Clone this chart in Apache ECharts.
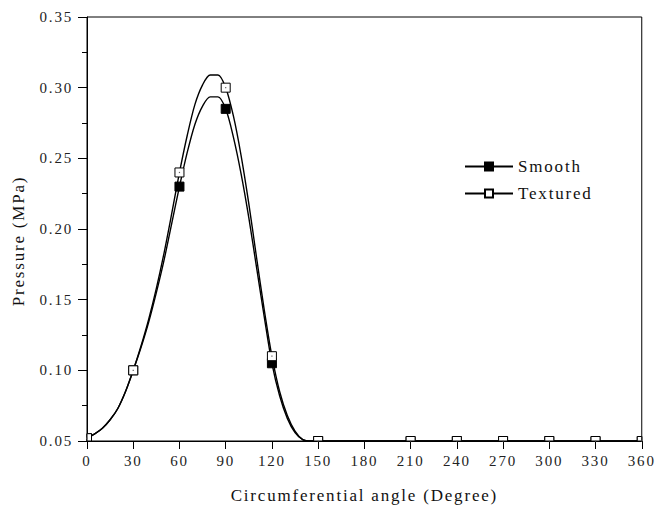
<!DOCTYPE html>
<html>
<head>
<meta charset="utf-8">
<title>Pressure vs circumferential angle</title>
<script src="https://cdn.jsdelivr.net/npm/echarts@6/dist/echarts.min.js"></script>
<style>
  html, body { margin: 0; padding: 0; background: #fff; }
  #chart { width: 656px; height: 511px; }
  #chart svg text { letter-spacing: 1.8px; }
</style>
</head>
<body>
<div id="chart"></div>
<script>
// Curve samples (degrees, MPa) for the two pressure profiles
const curveAngles   = [0, 5, 10, 15, 20, 25, 30, 35, 40, 45, 50, 55, 60, 65, 70, 75, 80, 85, 90,
                       95, 100, 105, 110, 115, 120, 125, 130, 135, 140, 145, 150, 360];
const smoothCurve   = [0.052, 0.055, 0.059, 0.065, 0.073, 0.085, 0.100, 0.116, 0.134, 0.155, 0.178,
                       0.204, 0.230, 0.254, 0.274, 0.287, 0.2935, 0.2935, 0.285, 0.265, 0.239, 0.208,
                       0.173, 0.138, 0.105, 0.082, 0.066, 0.056, 0.051, 0.050, 0.050, 0.050];
const texturedCurve = [0.052, 0.055, 0.059, 0.065, 0.073, 0.085, 0.100, 0.117, 0.136, 0.158, 0.183,
                       0.211, 0.240, 0.266, 0.288, 0.302, 0.309, 0.309, 0.300, 0.280, 0.252, 0.218,
                       0.180, 0.143, 0.110, 0.085, 0.068, 0.057, 0.051, 0.050, 0.050, 0.050];

// Measured points drawn as square markers
const markerAngles  = [0, 30, 60, 90, 120, 150, 210, 240, 270, 300, 330, 360];
const smoothMarks   = [0.052, 0.100, 0.230, 0.285, 0.105, 0.050, 0.050, 0.050, 0.050, 0.050, 0.050, 0.050];
const texturedMarks = [0.052, 0.100, 0.240, 0.300, 0.110, 0.050, 0.050, 0.050, 0.050, 0.050, 0.050, 0.050];

const seriesNames = ['Smooth', 'Textured'];
const xTitle = 'Circumferential angle (Degree)';
const yTitle = 'Pressure (MPa)';

const pairs = (xs, ys) => xs.map((x, i) => [x, ys[i]]);
const FONT = '"Liberation Serif", "Times New Roman", serif';

// Square marker clipped to the plotting area
function squareMarker(fill, withDot) {
  return function (params, api) {
    const c = api.coord([api.value(0), api.value(1)]);
    const half = 4.5;
    const cs = params.coordSys;
    const shape = echarts.graphic.clipRectByRect(
      { x: c[0] - half, y: c[1] - half, width: half * 2, height: half * 2 },
      { x: cs.x, y: cs.y, width: cs.width, height: cs.height }
    );
    if (!shape) return;
    const children = [{
      type: 'rect', shape: shape,
      style: { fill: fill, stroke: '#000', lineWidth: 1 }
    }];
    if (withDot) {
      children.push({
        type: 'rect',
        shape: { x: c[0] - 0.6, y: c[1] - 0.6, width: 1.2, height: 1.2 },
        style: { fill: '#666' }
      });
    }
    return { type: 'group', children: children };
  };
}

const chart = echarts.init(document.getElementById('chart'), null, { renderer: 'svg' });

chart.setOption({
  animation: false,
  backgroundColor: '#fff',
  textStyle: { fontFamily: FONT, color: '#222' },
  grid: {
    left: 87, top: 17, right: 13, bottom: 70,
    show: true, borderColor: '#000', borderWidth: 1, backgroundColor: 'transparent'
  },
  legend: {
    data: seriesNames,
    orient: 'vertical',
    left: 464, top: 158,
    padding: 0,
    itemWidth: 48, itemHeight: 10, itemGap: 10,
    textStyle: { fontFamily: FONT, fontSize: 17, lineHeight: 16, color: '#111' }
  },
  xAxis: {
    type: 'value',
    min: 0, max: 360, interval: 30,
    name: xTitle,
    nameLocation: 'middle',
    nameGap: 46,
    nameTextStyle: { fontFamily: FONT, fontSize: 17, color: '#111' },
    axisLine: { show: true, onZero: false, lineStyle: { color: '#000', width: 1 } },
    axisTick: { show: true, inside: false, length: 8, lineStyle: { color: '#000' } },
    axisLabel: { fontFamily: FONT, fontSize: 15, color: '#222', margin: 12 },
    splitLine: { show: false }
  },
  yAxis: {
    type: 'value',
    min: 0.05, max: 0.35, interval: 0.05,
    name: yTitle,
    nameLocation: 'middle',
    nameGap: 60,
    nameRotate: 90,
    nameTextStyle: { fontFamily: FONT, fontSize: 17, color: '#111', padding: [0, 24, 0, 0] },
    axisLine: { show: true, onZero: false, lineStyle: { color: '#000', width: 1 } },
    axisTick: { show: true, inside: false, length: 9, lineStyle: { color: '#000' } },
    minorTick: { show: true, splitNumber: 2, length: 5, lineStyle: { color: '#000' } },
    axisLabel: {
      fontFamily: FONT, fontSize: 15, color: '#222', margin: 14,
      formatter: v => v.toFixed(2)
    },
    splitLine: { show: false }
  },
  series: [
    {
      name: 'Smooth',
      type: 'line',
      data: pairs(curveAngles, smoothCurve),
      smooth: 0.3,
      showSymbol: false,
      symbol: 'rect',
      clip: true,
      lineStyle: { color: '#000', width: 1.4 },
      itemStyle: { color: '#000', borderColor: '#000', borderWidth: 1 },
      z: 2
    },
    {
      name: 'Textured',
      type: 'line',
      data: pairs(curveAngles, texturedCurve),
      smooth: 0.3,
      showSymbol: false,
      symbol: 'rect',
      clip: true,
      lineStyle: { color: '#000', width: 1.4 },
      itemStyle: { color: '#fff', borderColor: '#000', borderWidth: 1 },
      z: 2
    },
    {
      name: 'Smooth points',
      type: 'custom',
      data: pairs(markerAngles, smoothMarks),
      encode: { x: 0, y: 1 },
      renderItem: squareMarker('#000', false),
      silent: true,
      z: 3
    },
    {
      name: 'Textured points',
      type: 'custom',
      data: pairs(markerAngles, texturedMarks),
      encode: { x: 0, y: 1 },
      renderItem: squareMarker('#fff', true),
      silent: true,
      z: 4
    }
  ]
});
</script>
</body>
</html>
